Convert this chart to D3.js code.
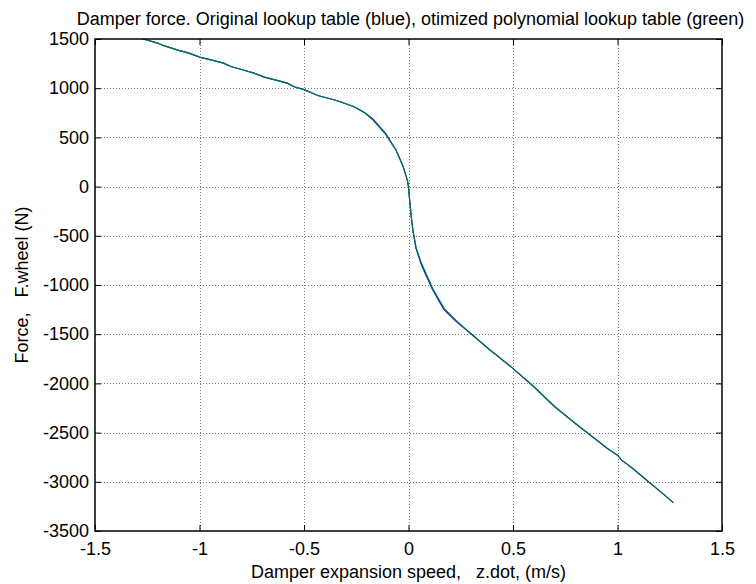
<!DOCTYPE html>
<html>
<head>
<meta charset="utf-8">
<script src="https://cdn.jsdelivr.net/npm/d3@7"></script>
<style>
  html, body { margin: 0; padding: 0; background: #fff; }
  svg { display: block; font-family: "Liberation Sans", Arial, sans-serif; }
  text { white-space: pre; }
</style>
</head>
<body>
<svg id="chart" width="756" height="584"></svg>
<script>
// Damper speed samples (m/s)
const speed = [-1.27, -1.20, -1.17, -1.10, -1.05, -1.00, -0.94, -0.885, -0.85, -0.79,
  -0.74, -0.69, -0.63, -0.58, -0.55, -0.50, -0.43, -0.37, -0.33, -0.26,
  -0.21, -0.17, -0.11, -0.06, -0.027, -0.005, 0.0, 0.006, 0.013, 0.021,
  0.036, 0.06, 0.085, 0.115, 0.17, 0.23, 0.296, 0.39, 0.49, 0.60,
  0.70, 0.80, 0.86, 0.95, 1.00, 1.02, 1.07, 1.14, 1.20, 1.267];

// Original lookup table force (N)
const forceTable = [1500, 1458, 1432, 1385, 1357, 1316, 1285, 1255, 1221, 1185,
  1153, 1112, 1080, 1051, 1017, 985, 923, 890, 865, 811,
  752, 686, 540, 372, 213, 60, 0, -150, -300, -445,
  -628, -785, -905, -1045, -1250, -1375, -1491, -1660, -1830, -2034,
  -2237, -2410, -2510, -2660, -2730, -2780, -2860, -2985, -3090, -3212];

// Optimized polynomial lookup table force (N)
const forcePoly = [1500, 1458, 1432, 1385, 1357, 1316, 1285, 1255, 1221, 1185,
  1153, 1112, 1080, 1051, 1017, 985, 923, 890, 865, 811,
  750, 676, 534, 372, 213, 60, 0, -150, -300, -440,
  -618, -770, -889, -1034, -1237, -1365, -1491, -1660, -1830, -2034,
  -2237, -2410, -2510, -2660, -2730, -2780, -2860, -2985, -3090, -3212];

const xTicks = [-1.5, -1, -0.5, 0, 0.5, 1, 1.5];
const yTicks = [1500, 1000, 500, 0, -500, -1000, -1500, -2000, -2500, -3000, -3500];

const titleText = "Damper force. Original lookup table (blue), otimized polynomial lookup table (green)";
const xLabel = "Damper expansion speed,   z.dot, (m/s)";
const yLabel = "Force,   F.wheel (N)";

const svg = d3.select("#chart");
const margin = { left: 95, right: 34, top: 39, bottom: 53 };
const W = 756, H = 584;
const x = d3.scaleLinear().domain([-1.5, 1.5]).range([margin.left, W - margin.right]);
const y = d3.scaleLinear().domain([-3500, 1500]).range([H - margin.bottom, margin.top]);

const fmt = d => String(d);
const fontSize = 18;
const fontFamily = "Liberation Sans, Arial, sans-serif";

// dotted grid
const grid = svg.append("g").attr("stroke", "#777").attr("stroke-dasharray", "1,2").attr("stroke-width", 1);
xTicks.slice(1, -1).forEach(t => {
  grid.append("line").attr("x1", Math.round(x(t)) + 0.5).attr("x2", Math.round(x(t)) + 0.5)
    .attr("y1", y(1500)).attr("y2", y(-3500));
});
yTicks.slice(1, -1).forEach(t => {
  grid.append("line").attr("y1", Math.round(y(t)) + 0.5).attr("y2", Math.round(y(t)) + 0.5)
    .attr("x1", x(-1.5)).attr("x2", x(1.5));
});

// axes with inward ticks on all four sides
const tickLen = 6;
const styleLabels = g => g.selectAll("text")
  .attr("font-size", fontSize).attr("fill", "#000").attr("font-family", fontFamily);
svg.append("g").attr("transform", `translate(0,${y(-3500)})`)
  .call(d3.axisBottom(x).tickValues(xTicks).tickFormat(fmt).tickSizeInner(-tickLen).tickSizeOuter(0).tickPadding(11))
  .call(g => g.select(".domain").remove())
  .call(styleLabels);
svg.append("g").attr("transform", `translate(0,${y(1500)})`)
  .call(d3.axisTop(x).tickValues(xTicks).tickFormat("").tickSizeInner(-tickLen).tickSizeOuter(0))
  .call(g => g.select(".domain").remove());
svg.append("g").attr("transform", `translate(${x(-1.5)},0)`)
  .call(d3.axisLeft(y).tickValues(yTicks).tickFormat(fmt).tickSizeInner(-tickLen).tickSizeOuter(0).tickPadding(6))
  .call(g => g.select(".domain").remove())
  .call(styleLabels);
svg.append("g").attr("transform", `translate(${x(1.5)},0)`)
  .call(d3.axisRight(y).tickValues(yTicks).tickFormat("").tickSizeInner(-tickLen).tickSizeOuter(0))
  .call(g => g.select(".domain").remove());

// clip region for the curves
svg.append("clipPath").attr("id", "plotClip").append("rect")
  .attr("x", x(-1.5)).attr("y", y(1500))
  .attr("width", x(1.5) - x(-1.5)).attr("height", y(-3500) - y(1500));

const line = d3.line().x(d => x(d[0])).y(d => y(d[1]));
const curves = svg.append("g").attr("clip-path", "url(#plotClip)");
curves.append("path").datum(d3.zip(speed, forceTable))
  .attr("d", line).attr("fill", "none").attr("stroke", "#0000ff").attr("stroke-width", 1.2);
curves.append("path").datum(d3.zip(speed, forcePoly))
  .attr("d", line).attr("fill", "none").attr("stroke", "#007a3d").attr("stroke-width", 1.2);

// frame
svg.append("rect").attr("x", x(-1.5)).attr("y", y(1500))
  .attr("width", x(1.5) - x(-1.5)).attr("height", y(-3500) - y(1500))
  .attr("fill", "none").attr("stroke", "#000").attr("stroke-width", 1.5);

// title and axis labels
svg.append("text").attr("x", (x(-1.5) + x(1.5)) / 2 + 2).attr("y", 25)
  .attr("text-anchor", "middle").attr("font-size", fontSize).text(titleText);
svg.append("text").attr("x", (x(-1.5) + x(1.5)) / 2).attr("y", 578)
  .attr("text-anchor", "middle").attr("font-size", fontSize).text(xLabel);
svg.append("text").attr("transform", `translate(28,${(y(1500) + y(-3500)) / 2}) rotate(-90)`)
  .attr("text-anchor", "middle").attr("font-size", fontSize).text(yLabel);
</script>
</body>
</html>
